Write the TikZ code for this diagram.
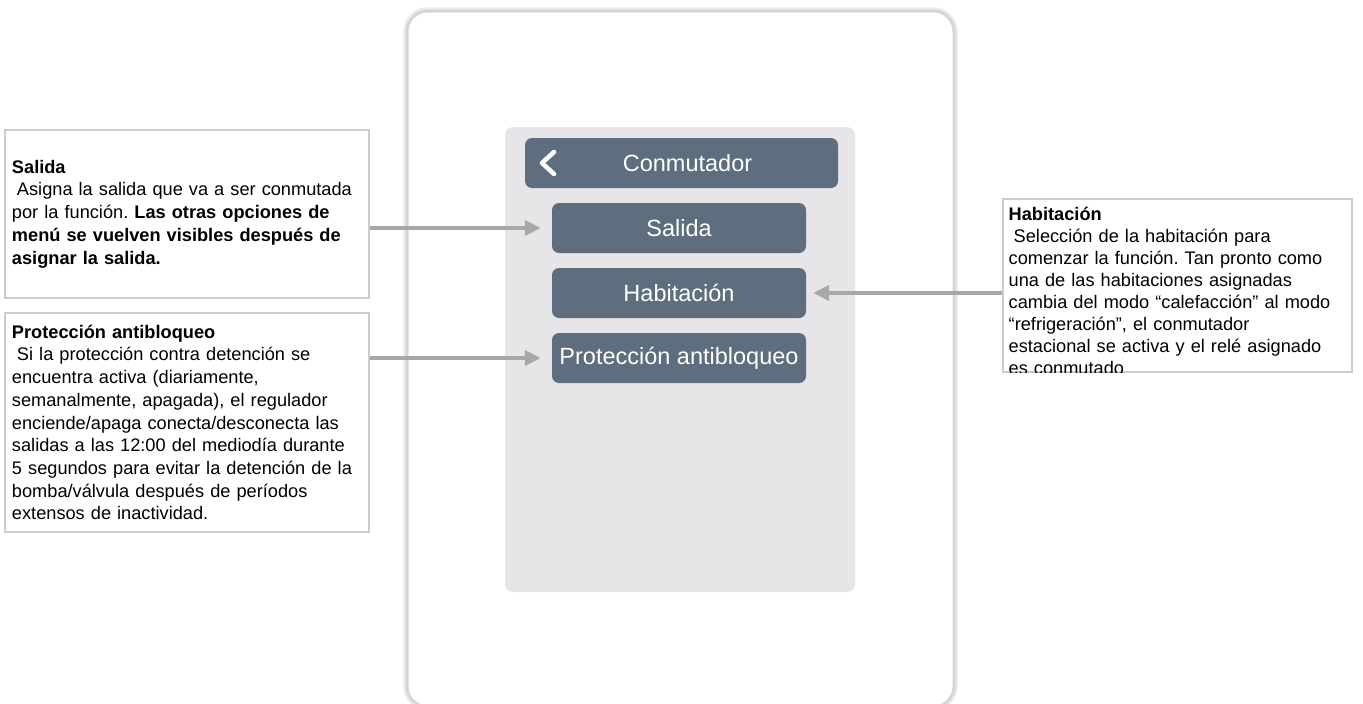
\documentclass[tikz,border=0pt]{standalone}
\usepackage{fontspec}
\setmainfont{Liberation Sans}
\usetikzlibrary{arrows.meta}

\definecolor{slate}{RGB}{94,110,126}
\definecolor{panelgray}{RGB}{230,230,232}
\definecolor{arrowgray}{RGB}{168,168,168}
\definecolor{boxline}{RGB}{204,204,204}

\AtBeginDocument{\frenchspacing\hyphenpenalty=10000\relax}

\begin{document}
\begin{tikzpicture}[x=1pt, y=-1pt,
    menubtn/.style={fill=slate, rounded corners=7pt, minimum width=254pt,
      minimum height=50pt, inner sep=0pt, text=white,
      font=\fontsize{23.5}{26}\selectfont},
    infotext/.style={align=left, font=\fontsize{18.2}{22.7}\selectfont},
    infobox/.style={infotext, draw=boxline, line width=2pt, fill=white,
      inner xsep=7pt, text width=350pt},
    pointer/.style={draw=arrowgray, line width=4pt,
      -{Triangle[length=16pt, width=15pt]}}]

        \useasboundingbox (0,0) rectangle (1363,704);
        \fill[white] (0,0) rectangle (1363,704);

        % Device frame with a soft shadow
        \foreach \w in {10,7,4} {
          \draw[black, opacity=0.06, line width=\w pt, rounded corners=20pt]
            (408,12) rectangle (953,706);
        }
        \filldraw[fill=white, draw=black!15, line width=1pt, rounded corners=20pt]
          (408,12) rectangle (953,706);

        % Menu panel
        \fill[panelgray, rounded corners=8pt] (505,127) rectangle (855,592);

        % Header with back arrow
        \node[menubtn, minimum width=313pt] (head) at (681.5,163)
          {\hspace*{12pt}Conmutador};
        \draw[white, line width=4.5pt, line cap=round, line join=round]
          (554,152) -- (542,163) -- (554,174);

        % Menu entries
        \node[menubtn] (salida) at (679,228) {Salida};
        \node[menubtn] (hab)    at (679,293) {Habitación};
        \node[menubtn] (prot)   at (679,358) {Protección antibloqueo};

        % Info boxes, left
        \node[infobox, minimum height=168pt] (salidaInfo) at (187,214)
          {\textbf{Salida}\\
           \hspace*{5pt}Asigna la salida que va a ser conmutada\\
           por la función. \textbf{Las otras opciones de}\\
           \textbf{menú se vuelven visibles después de}\\
           \textbf{asignar la salida.}};

        \node[infobox, minimum height=219pt] (protInfo) at (187,422.5)
          {\textbf{Protección antibloqueo}\\
           \hspace*{5pt}Si la protección contra detención se\\
           encuentra activa (diariamente,\\
           semanalmente, apagada), el regulador\\
           enciende/apaga conecta/desconecta las\\
           salidas a las 12:00 del mediodía durante\\
           5 segundos para evitar la detención de la\\
           bomba/válvula después de períodos\\
           extensos de inactividad.};

        % Info box, right (text cut off at the bottom)
        \node[draw=boxline, line width=2pt, fill=white, minimum width=349pt,
          minimum height=173pt] (habInfo) at (1177,285.5) {};
        \begin{scope}
          \clip ([yshift=1pt]habInfo.south west) rectangle (habInfo.north east);
          \node[infotext, font=\fontsize{18.2}{22}\selectfont, anchor=north west,
            text width=336pt, inner xsep=7pt, inner ysep=9pt] (habText)
            at (habInfo.north west)
            {\textbf{Habitación}\\
             \hspace*{5pt}Selección de la habitación para\\
             comenzar la función. Tan pronto como\\
             una de las habitaciones asignadas\\
             cambia del modo “calefacción” al modo\\
             “refrigeración”, el conmutador\\
             estacional se activa y el relé asignado\\
             es conmutado};
        \end{scope}

        % Arrows to the menu entries
        \draw[pointer] (salidaInfo.east |- salida.west) -- ([xshift=-11pt]salida.west);
        \draw[pointer] (protInfo.east |- prot.west) -- ([xshift=-11pt]prot.west);
        \draw[pointer] (habInfo.west |- hab.east) -- ([xshift=7pt]hab.east);

\end{tikzpicture}
\end{document}
